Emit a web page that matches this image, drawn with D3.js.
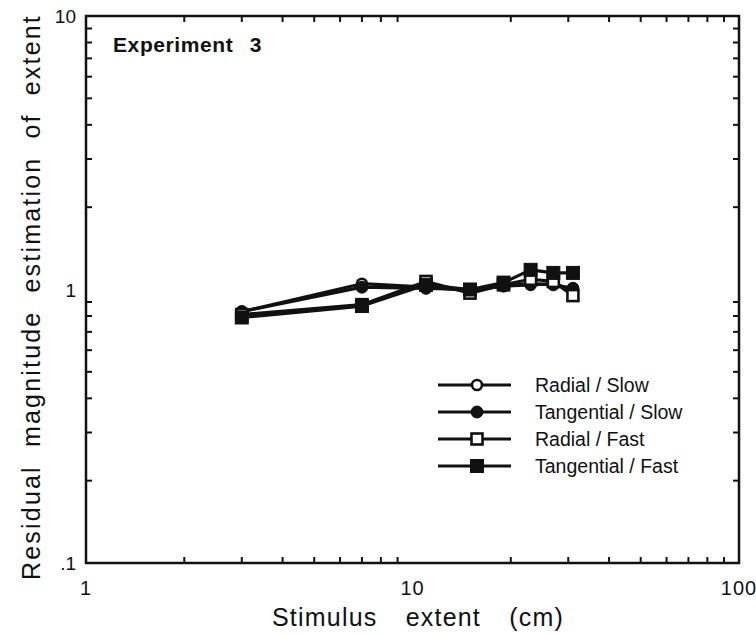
<!DOCTYPE html>
<html><head><meta charset="utf-8">
<script src="https://cdn.jsdelivr.net/npm/d3@7"></script>
<style>
body{margin:0;background:#fff;}
svg{display:block;}
text{font-family:"Liberation Sans",Arial,Helvetica,sans-serif;fill:#111;}
</style></head>
<body>
<svg id="c" width="756" height="635"></svg>
<script>
const xValues = [3, 7, 11, 15, 19, 23, 27, 31];
const radialSlow = [0.83, 1.05, 1.02, 0.99, 1.03, 1.04, 1.05, 1.00];
const tangentialSlow = [0.83, 1.02, 1.01, 1.00, 1.03, 1.05, 1.04, 1.01];
const radialFast = [0.81, 0.88, 1.07, 0.97, 1.04, 1.09, 1.07, 0.95];
const tangentialFast = [0.79, 0.87, 1.04, 1.00, 1.06, 1.18, 1.15, 1.15];
const seriesNames = ["Radial / Slow", "Tangential / Slow", "Radial / Fast", "Tangential / Fast"];
const xTickLabels = ["1", "10", "100"];
const yTickLabels = [".1", "1", "10"];

const series = [
  {name: seriesNames[0], values: radialSlow, shape: "circle", filled: false},
  {name: seriesNames[1], values: tangentialSlow, shape: "circle", filled: true},
  {name: seriesNames[2], values: radialFast, shape: "square", filled: false},
  {name: seriesNames[3], values: tangentialFast, shape: "square", filled: true}
];

const L = 86, R = 739, T = 16, B = 563;
const svg = d3.select("#c");
const x = d3.scaleLog().domain([1, 100]).range([L, R]);
const y = d3.scaleLog().domain([0.1, 10]).range([B, T]);

function fitWords(sel, target, ls) {
  sel.attr("letter-spacing", ls);
  const w = sel.node().getComputedTextLength();
  const n = (sel.text().match(/ /g) || []).length;
  if (n > 0) sel.attr("word-spacing", Math.max(0, (target - w) / n));
}

// frame
svg.append("rect").attr("x", L).attr("y", T).attr("width", R - L).attr("height", B - T)
  .attr("fill", "none").attr("stroke", "#111").attr("stroke-width", 2.5);

// ticks
const tickVals = [];
[1, 10].forEach(d => { for (let k = 2; k <= 9; k++) tickVals.push(d * k); });
const yTickVals = [];
[0.1, 1].forEach(d => { for (let k = 2; k <= 9; k++) yTickVals.push(d * k); });
const tg = svg.append("g").attr("stroke", "#111").attr("stroke-width", 2);
tickVals.forEach(v => {
  const len = v === 10 ? 10 : 6;
  tg.append("line").attr("x1", x(v)).attr("x2", x(v)).attr("y1", B).attr("y2", B - len);
  tg.append("line").attr("x1", x(v)).attr("x2", x(v)).attr("y1", T).attr("y2", T + len);
});
yTickVals.forEach(v => {
  const len = v === 1 ? 10 : 6;
  tg.append("line").attr("y1", y(v)).attr("y2", y(v)).attr("x1", L).attr("x2", L + len);
  tg.append("line").attr("y1", y(v)).attr("y2", y(v)).attr("x1", R).attr("x2", R - len);
});

// tick labels
[1, 10, 100].forEach((v, i) => {
  svg.append("text").attr("x", x(v)).attr("y", 595).attr("text-anchor", "middle")
    .attr("font-size", 20).attr("letter-spacing", 1).text(xTickLabels[i]);
});
[0.1, 1, 10].forEach((v, i) => {
  svg.append("text").attr("x", 76).attr("y", y(v) + 7).attr("text-anchor", "end")
    .attr("font-size", 19).text(yTickLabels[i]);
});

// axis titles
const xt = svg.append("text").attr("x", 272).attr("y", 626).attr("font-size", 25).text("Stimulus extent (cm)");
fitWords(xt, 292, 1.2);
const yt = svg.append("text").attr("transform", "translate(40,580) rotate(-90)").attr("font-size", 25)
  .text("Residual magnitude estimation of extent");
fitWords(yt, 566, 2.2);

// panel label
const pl = svg.append("text").attr("x", 113).attr("y", 52).attr("font-size", 21).attr("font-weight", "bold")
  .text("Experiment 3");
fitWords(pl, 149, 0.6);

// lines
const line = d3.line().x((d, i) => x(xValues[i])).y(d => y(d));
series.forEach(s => {
  svg.append("path").attr("d", line(s.values)).attr("fill", "none")
    .attr("stroke", "#111").attr("stroke-width", 3.2).attr("stroke-linejoin", "round");
});

function marker(g, s, cx, cy) {
  if (s.shape === "circle") {
    g.append("circle").attr("cx", cx).attr("cy", cy).attr("r", s.filled ? 6 : 5)
      .attr("fill", s.filled ? "#111" : "#fff").attr("stroke", "#111").attr("stroke-width", s.filled ? 1 : 2.6);
  } else {
    const h = s.filled ? 6.5 : 5.5;
    g.append("rect").attr("x", cx - h).attr("y", cy - h).attr("width", 2 * h).attr("height", 2 * h)
      .attr("fill", s.filled ? "#111" : "#fff").attr("stroke", "#111").attr("stroke-width", s.filled ? 1 : 2.6);
  }
}
const mg = svg.append("g");
series.forEach(s => {
  s.values.forEach((v, i) => marker(mg, s, x(xValues[i]), y(v)));
});

// legend
const legY = [385, 412, 439, 466];
series.forEach((s, i) => {
  const g = svg.append("g");
  g.append("line").attr("x1", 438).attr("x2", 511).attr("y1", legY[i]).attr("y2", legY[i])
    .attr("stroke", "#111").attr("stroke-width", 3);
  marker(g, s, 477, legY[i]);
  g.append("text").attr("x", 535).attr("y", legY[i] + 7).attr("font-size", 19.5).text(s.name);
});
</script>
</body></html>
